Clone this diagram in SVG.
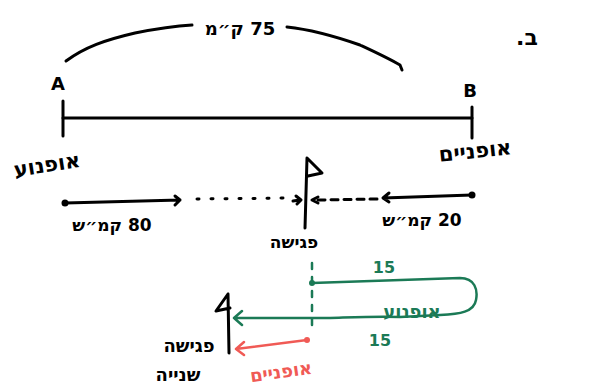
<svg xmlns="http://www.w3.org/2000/svg" width="589" height="392" viewBox="0 0 589 392">
<style>
.ink{fill:none;stroke:#000;stroke-width:3;stroke-linecap:round;stroke-linejoin:round}
.grn{fill:none;stroke:#1b7a56;stroke-width:2.5;stroke-linecap:round;stroke-linejoin:round}
.red{fill:none;stroke:#f05a55;stroke-width:2.5;stroke-linecap:round;stroke-linejoin:round}
.t{font-family:"DejaVu Sans","Liberation Sans",sans-serif;font-weight:bold;direction:rtl}
.tk{fill:#000}
.tg{fill:#1b7a56}
.tr{fill:#f05a55}
</style>
<rect width="589" height="392" fill="#fff"/>
<g id="connectors">
<path class="ink" d="M66,61 C85,47 105,40 135,33 C160,28 175,26 192,25"/>
<path class="ink" d="M287,27 C315,30 340,38 360,45 C375,52 388,58 400,65 L402,70"/>
<path class="ink" d="M63,118 L472,118"/>
<path class="ink" d="M65,203 L180,200 M175,196 L180,200 L175,205"/>
<path class="ink" d="M197,199 L290,198" stroke-dasharray="2 12"/>
<path class="ink" d="M293,201 L300,200 M296,196 L301,200 L297,204"/>
<path class="ink" d="M472,195 L383,198 M389,193 L383,198 L389,202"/>
<path class="ink" d="M377,199 L318,200" stroke-dasharray="7 6"/>
<path class="ink" d="M318,197 L312,200 L318,203"/>
<path class="grn" d="M312,263 L312,330" stroke-dasharray="6 8"/>
<path class="grn" d="M312,283 L460,278 C475,278 478,290 476,300 C474,312 460,314 440,315 L400,317 C380,316 360,317 330,318 L234,318 M242,311 L234,318 L242,325"/>
<path class="red" d="M307,340 L236,349 M244,342 L236,349 L244,355"/>
</g>
<g id="arc-label"><text class="t tk" x="240" y="35" font-size="18" text-anchor="middle">75 ק״מ</text></g>
<g id="question"><text class="t tk" x="527" y="45" font-size="22" text-anchor="middle">ב.</text></g>
<g id="A"><text class="t tk" x="58" y="90" font-size="18" text-anchor="middle" direction="ltr">A</text><path class="ink" d="M63,101 L63,136"/></g>
<g id="B"><text class="t tk" x="470" y="97" font-size="18" text-anchor="middle" direction="ltr">B</text><path class="ink" d="M472,107 L472,138"/></g>
<g id="motorcycle"><text class="t tk" x="47" y="172" font-size="21" text-anchor="middle" transform="rotate(-9 47 165)">אופנוע</text><circle cx="65" cy="203" r="3.5"/><text class="t tk" x="112" y="231" font-size="17" text-anchor="middle">80 קמ״ש</text></g>
<g id="bicycle"><text class="t tk" x="475" y="158" font-size="21" text-anchor="middle" transform="rotate(-6 475 150)">אופניים</text><circle cx="472" cy="195" r="3.5"/><text class="t tk" x="422" y="226" font-size="17" text-anchor="middle">20 קמ״ש</text></g>
<g id="meeting"><path class="ink" d="M307,158 L305,228 M307,158 L322,173 L308,176"/><text class="t tk" x="294" y="248" font-size="17" text-anchor="middle">פגישה</text></g>
<g id="green-trip"><circle cx="312" cy="283" r="3" fill="#1b7a56"/><text class="t tg" x="384" y="273" font-size="16" text-anchor="middle" direction="ltr">15</text><text class="t tg" x="412" y="318" font-size="18" text-anchor="middle">אופנוע</text><text class="t tg" x="380" y="346" font-size="16" text-anchor="middle" direction="ltr">15</text></g>
<g id="second-meeting"><path class="ink" d="M228,294 L229,353 M228,294 L216,311 L230,308"/><text class="t tk" x="189" y="352" font-size="18" text-anchor="middle">פגישה</text><text class="t tk" x="178" y="381" font-size="18" text-anchor="middle">שנייה</text></g>
<g id="red-trip"><circle cx="307" cy="340" r="3" fill="#f05a55"/><text class="t tr" x="281" y="378" font-size="18" text-anchor="middle" transform="rotate(-8 281 372)">אופניים</text></g>
</svg>
